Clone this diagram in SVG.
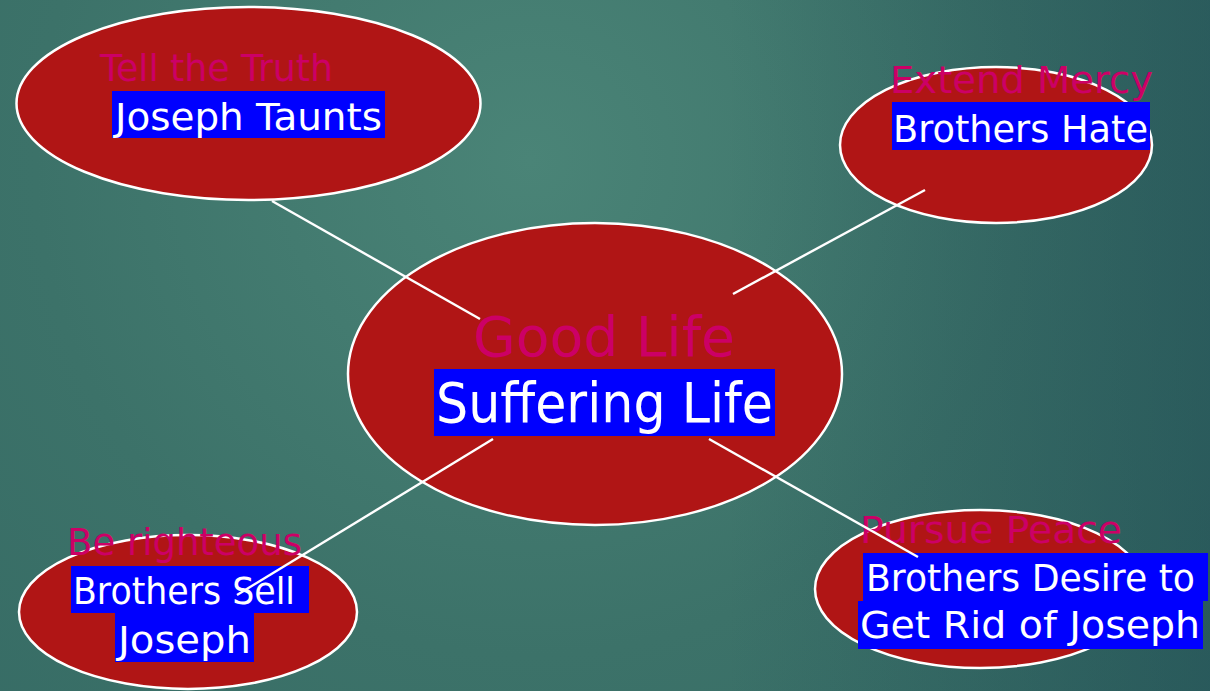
<svg xmlns="http://www.w3.org/2000/svg" width="1210" height="691" viewBox="0 0 1210 691">
<defs>
<radialGradient id="bg" cx="530" cy="160" r="900" gradientUnits="userSpaceOnUse">
<stop offset="0" stop-color="#4a8477"/>
<stop offset="0.55" stop-color="#3c7269"/>
<stop offset="1" stop-color="#356a64"/>
</radialGradient>
<linearGradient id="shade" x1="0" y1="0" x2="1210" y2="0" gradientUnits="userSpaceOnUse">
<stop offset="0.6" stop-color="#1a4550" stop-opacity="0"/>
<stop offset="1" stop-color="#1a4550" stop-opacity="0.45"/>
</linearGradient>
<style>
.node{fill:#b01515;stroke:#ffffff;stroke-width:2.5}
.goal{fill:#cc0066;font-family:"DejaVu Sans","Liberation Sans",sans-serif}
.hl{fill:#0000ff}
.lbl{fill:#ffffff;font-family:"DejaVu Sans","Liberation Sans",sans-serif}
.s{font-size:38px}
.b{font-size:56px}
.conn line{stroke:#ffffff;stroke-width:2.4}
</style>
</defs>
<rect width="1210" height="691" fill="url(#bg)"/>
<rect width="1210" height="691" fill="url(#shade)"/>
<g id="node-tell-truth">
<ellipse class="node" cx="248.5" cy="103.5" rx="232" ry="96.5"/>
<text class="goal s" x="100" y="81" textLength="233" lengthAdjust="spacingAndGlyphs">Tell the Truth</text>
<rect class="hl" x="112" y="91" width="273" height="47"/>
<text class="lbl s" x="115" y="130" textLength="267" lengthAdjust="spacingAndGlyphs">Joseph Taunts</text>
</g>
<g id="node-extend-mercy">
<ellipse class="node" cx="996" cy="145" rx="156" ry="78"/>
<text class="goal s" x="890" y="93" textLength="263" lengthAdjust="spacingAndGlyphs">Extend Mercy</text>
<rect class="hl" x="892" y="102" width="258" height="48"/>
<text class="lbl s" x="893" y="142" textLength="255" lengthAdjust="spacingAndGlyphs">Brothers Hate</text>
</g>
<g id="node-center">
<ellipse class="node" cx="595" cy="374" rx="247" ry="151"/>
<text class="goal b" x="473" y="356" textLength="262" lengthAdjust="spacingAndGlyphs">Good Life</text>
<rect class="hl" x="434" y="369" width="341" height="67"/>
<text class="lbl b" x="436" y="422" textLength="337" lengthAdjust="spacingAndGlyphs">Suffering Life</text>
</g>
<g id="node-be-righteous">
<ellipse class="node" cx="188" cy="612" rx="169" ry="77"/>
<text class="goal s" x="67" y="555" textLength="235" lengthAdjust="spacingAndGlyphs">Be righteous</text>
<rect class="hl" x="71" y="566" width="238" height="47"/>
<rect class="hl" x="115" y="613" width="139" height="49"/>
<text class="lbl s" x="73" y="604" textLength="222" lengthAdjust="spacingAndGlyphs">Brothers Sell</text>
<text class="lbl s" x="118" y="653" textLength="133" lengthAdjust="spacingAndGlyphs">Joseph</text>
</g>
<g id="node-pursue-peace">
<ellipse class="node" cx="980" cy="589" rx="165" ry="79"/>
<text class="goal s" x="860" y="543" textLength="262" lengthAdjust="spacingAndGlyphs">Pursue Peace</text>
<rect class="hl" x="863" y="553" width="345" height="48"/>
<rect class="hl" x="858" y="601" width="345" height="48"/>
<text class="lbl s" x="866" y="591" textLength="329" lengthAdjust="spacingAndGlyphs">Brothers Desire to</text>
<text class="lbl s" x="860" y="638" textLength="340" lengthAdjust="spacingAndGlyphs">Get Rid of Joseph</text>
</g>
<g id="connectors" class="conn">
<line x1="272" y1="201" x2="480" y2="319"/>
<line x1="733" y1="294" x2="925" y2="190"/>
<line x1="493" y1="439" x2="237" y2="595"/>
<line x1="709" y1="439" x2="918" y2="557"/>
</g>
</svg>
